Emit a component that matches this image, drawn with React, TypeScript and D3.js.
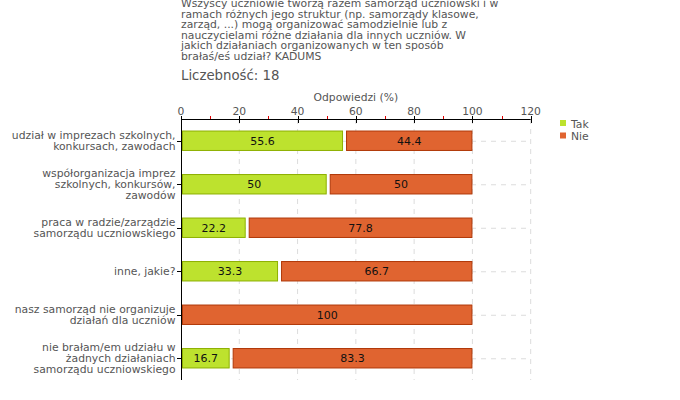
import React from "react";
import * as d3 from "d3";

const categories: string[][] = [
  ["udział w imprezach szkolnych,", "konkursach, zawodach"],
  ["współorganizacja imprez", "szkolnych, konkursów,", "zawodów"],
  ["praca w radzie/zarządzie", "samorządu uczniowskiego"],
  ["inne, jakie?"],
  ["nasz samorząd nie organizuje", "działań dla uczniów"],
  ["nie brałam/em udziału w", "żadnych działaniach", "samorządu uczniowskiego"],
];
const takValues = [55.6, 50, 22.2, 33.3, 0, 16.7];
const nieValues = [44.4, 50, 77.8, 66.7, 100, 83.3];
const majorTicks = [0, 20, 40, 60, 80, 100, 120];
const minorTicks = [10, 30, 50, 70, 90, 110];
const titleLines = [
  "Wszyscy uczniowie tworzą razem samorząd uczniowski i w",
  "ramach różnych jego struktur (np. samorządy klasowe,",
  "zarząd, ...) mogą organizować samodzielnie lub z",
  "nauczycielami różne działania dla innych uczniów. W",
  "jakich działaniach organizowanych w ten sposób",
  "brałaś/eś udział? KADUMS",
];
const countLabel = "Liczebność: 18";
const axisTitle = "Odpowiedzi (%)";
const legendItems = ["Tak", "Nie"];

const FONT = "DejaVu Sans, Verdana, sans-serif";
const GREEN = "#bde22e";
const GREEN_STROKE = "#8db000";
const ORANGE = "#e06430";
const ORANGE_STROKE = "#b03808";
const TEXT = "#555";

export default function App() {
  const W = 680, H = 400;
  const x = d3.scaleLinear().domain([0, 120]).range([181, 530.7]);
  const idx = categories.map((_, i) => String(i));
  const y = d3.scaleBand().domain(idx).range([119, 380]).padding(0);
  const barH = y.bandwidth() * 0.47;
  const fmt = (v: number) => String(v);

  return (
    <svg width={W} height={H} style={{ position: "absolute", left: 0, top: 0, background: "#fff" }}
      fontFamily={FONT}>
      {/* title */}
      {titleLines.map((t, i) => (
        <text key={i} x={181} y={7 + i * 10.6} fontSize={10.8} fill={TEXT}>{t}</text>
      ))}
      <text x={181} y={80} fontSize={13.3} fill={TEXT}>{countLabel}</text>

      {/* axis title */}
      <text x={x(60)} y={101} fontSize={10.75} fill={TEXT} textAnchor="middle">{axisTitle}</text>

      {/* grid lines */}
      {majorTicks.filter(t => t > 0).map(t => (
        <line key={"vg" + t} x1={x(t)} x2={x(t)} y1={119} y2={380}
          stroke="#dcdcdc" strokeDasharray="5,5" />
      ))}
      {idx.map(k => (
        <line key={"hg" + k} x1={x(0)} x2={x(120)} y1={y(k)! + y.bandwidth() / 2 + 0.5}
          y2={y(k)! + y.bandwidth() / 2 + 0.5} stroke="#dcdcdc" strokeDasharray="5,5" />
      ))}

      {/* bars */}
      {idx.map((k, i) => {
        const cy = y(k)! + y.bandwidth() / 2;
        const top = cy - barH / 2;
        const tak = takValues[i];
        const nie = nieValues[i];
        const x0 = x(0) + 1;
        const gx = x(tak);
        const ox = tak > 0 ? gx + 3 : x0;
        const oe = x(tak + nie);
        return (
          <g key={"b" + k}>
            {tak > 0 && (
              <>
                <rect x={x0 + 0.5} y={top + 0.5} width={gx - x0 - 1} height={barH - 1}
                  fill={GREEN} stroke={GREEN_STROKE} />
                <text x={(x0 + gx) / 2} y={cy + 4} fontSize={11} textAnchor="middle" fill="#111">{fmt(tak)}</text>
              </>
            )}
            {nie > 0 && (
              <>
                <rect x={ox + 0.5} y={top + 0.5} width={oe - ox - 1} height={barH - 1}
                  fill={ORANGE} stroke={ORANGE_STROKE} />
                <text x={(ox + oe) / 2} y={cy + 4} fontSize={11} textAnchor="middle" fill="#111">{fmt(nie)}</text>
              </>
            )}
          </g>
        );
      })}

      {/* x axis */}
      <line x1={x(0)} x2={x(120)} y1={119.5} y2={119.5} stroke="#000" />
      {majorTicks.map(t => (
        <g key={"mt" + t}>
          <line x1={Math.round(x(t)) + 0.5} x2={Math.round(x(t)) + 0.5} y1={116} y2={123} stroke="#000" />
          <text x={x(t)} y={115} fontSize={10.75} fill={TEXT} textAnchor="middle">{t}</text>
        </g>
      ))}
      {minorTicks.map(t => (
        <line key={"mn" + t} x1={Math.round(x(t)) + 0.5} x2={Math.round(x(t)) + 0.5} y1={116} y2={119}
          stroke="#e00000" />
      ))}

      {/* y axis */}
      <line x1={181.5} x2={181.5} y1={119} y2={380} stroke="#000" />
      {idx.map((k, i) => {
        const cy = y(k)! + y.bandwidth() / 2;
        const lines = categories[i];
        const lh = 11;
        const start = cy - ((lines.length - 1) * lh) / 2 + 3.8;
        return (
          <g key={"yl" + k}>
            <line x1={177} x2={181} y1={Math.round(cy) + 0.5} y2={Math.round(cy) + 0.5} stroke="#000" />
            {lines.map((l, j) => (
              <text key={j} x={175.5} y={start + j * lh} fontSize={10.8} fill={TEXT} textAnchor="end">{l}</text>
            ))}
          </g>
        );
      })}

      {/* legend */}
      {legendItems.map((l, i) => (
        <g key={l}>
          <rect x={560} y={120 + i * 12.5} width={6} height={6}
            fill={i === 0 ? GREEN : ORANGE} />
          <text x={571} y={127.5 + i * 12.5} fontSize={10.8} fill={TEXT}>{l}</text>
        </g>
      ))}
    </svg>
  );
}
